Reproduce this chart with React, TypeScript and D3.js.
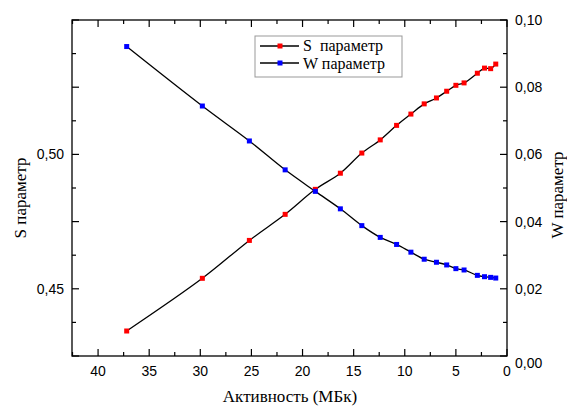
import React from "react";
import * as d3 from "d3";

// activity in MBq (x), S and W parameters
const activity = [37.2, 29.8, 25.2, 21.7, 18.75, 16.3, 14.2, 12.4, 10.8, 9.4, 8.1, 6.9, 5.9, 5.0, 4.2, 2.9, 2.2, 1.6, 1.1];
const sParam = [0.4343, 0.4539, 0.468, 0.4777, 0.487, 0.493, 0.5005, 0.5054, 0.5108, 0.515, 0.5188, 0.521, 0.5235, 0.5257, 0.5266, 0.5302, 0.5321, 0.5319, 0.5336];
const wParam = [0.0921, 0.0744, 0.064, 0.0554, 0.049, 0.0438, 0.0388, 0.0353, 0.0332, 0.0309, 0.0288, 0.0279, 0.0271, 0.026, 0.0256, 0.024, 0.0236, 0.0234, 0.0232];

const xMajor = [40, 35, 30, 25, 20, 15, 10, 5, 0];
const sMajor = [0.425, 0.45, 0.475, 0.5, 0.525, 0.55];
const sLabeled = [0.45, 0.5];
const wMajor = [0, 0.02, 0.04, 0.06, 0.08, 0.1];

const W = 567, H = 407;
const L = 72, R = 507, T = 20, B = 356;
const sans = "'Liberation Sans', Arial, sans-serif";
const serif = "'Liberation Serif', 'Times New Roman', serif";

const fmt = (v: number) => d3.format(".2f")(v).replace(".", ",");

export default function App() {
  const x = d3.scaleLinear().domain([42.55, 0]).range([L, R]);
  const yS = d3.scaleLinear().domain([0.425, 0.55]).range([B, T]);
  const yW = d3.scaleLinear().domain([0, 0.1]).range([B, T]);

  const xMinor = xMajor.map(v => v + 2.5).filter(v => v < 42.55);
  const sMinor = sMajor.map(v => v + 0.0125).filter(v => v < 0.55);
  const wMinor = wMajor.map(v => v + 0.01).filter(v => v < 0.1);

  const pts = activity.map((a, i) => ({ a, s: sParam[i], w: wParam[i] }));
  const lineS = d3.line<any>().x(d => x(d.a)).y(d => yS(d.s)).curve(d3.curveCatmullRom);
  const lineW = d3.line<any>().x(d => x(d.a)).y(d => yW(d.w)).curve(d3.curveCatmullRom);

  const ms = 5;
  const big = 7, small = 4;

  return (
    <>
      <style>{"body{margin:0}"}</style>
      <svg width={W} height={H} style={{ display: "block", background: "#fff" }}>
        {/* x ticks bottom + top */}
        {xMajor.map(v => (
          <g key={"xM" + v}>
            <line x1={x(v)} x2={x(v)} y1={B} y2={B - big} stroke="#000" strokeWidth={1.2} />
            <line x1={x(v)} x2={x(v)} y1={T} y2={T + big} stroke="#000" strokeWidth={1.2} />
            <text x={x(v)} y={376} textAnchor="middle" fontFamily={sans} fontSize={14}>{v}</text>
          </g>
        ))}
        {xMinor.map(v => (
          <g key={"xm" + v}>
            <line x1={x(v)} x2={x(v)} y1={B} y2={B - small} stroke="#000" strokeWidth={1.2} />
            <line x1={x(v)} x2={x(v)} y1={T} y2={T + small} stroke="#000" strokeWidth={1.2} />
          </g>
        ))}
        {/* left S axis */}
        {sMajor.map(v => (
          <line key={"sM" + v} x1={L} x2={L + big} y1={yS(v)} y2={yS(v)} stroke="#000" strokeWidth={1.2} />
        ))}
        {sMinor.map(v => (
          <line key={"sm" + v} x1={L} x2={L + small} y1={yS(v)} y2={yS(v)} stroke="#000" strokeWidth={1.2} />
        ))}
        {sLabeled.map(v => (
          <text key={"sl" + v} x={64} y={yS(v)} dy="0.35em" textAnchor="end" fontFamily={sans} fontSize={14}>{fmt(v)}</text>
        ))}
        {/* right W axis */}
        {wMajor.map(v => (
          <g key={"wM" + v}>
            <line x1={R} x2={R - big} y1={yW(v)} y2={yW(v)} stroke="#000" strokeWidth={1.2} />
            <text x={515} y={yW(v)} dy={v === 0 ? "0.85em" : "0.35em"} fontFamily={sans} fontSize={14}>{fmt(v)}</text>
          </g>
        ))}
        {wMinor.map(v => (
          <line key={"wm" + v} x1={R} x2={R - small} y1={yW(v)} y2={yW(v)} stroke="#000" strokeWidth={1.2} />
        ))}
        {/* frame */}
        <rect x={L} y={T} width={R - L} height={B - T} fill="none" stroke="#000" strokeWidth={1.3} />

        {/* data */}
        <path d={lineS(pts) || ""} fill="none" stroke="#000" strokeWidth={1.3} />
        <path d={lineW(pts) || ""} fill="none" stroke="#000" strokeWidth={1.3} />
        {pts.map((d, i) => (
          <rect key={"s" + i} x={x(d.a) - ms / 2} y={yS(d.s) - ms / 2} width={ms} height={ms} fill="#ff0000" />
        ))}
        {pts.map((d, i) => (
          <rect key={"w" + i} x={x(d.a) - ms / 2} y={yW(d.w) - ms / 2} width={ms} height={ms} fill="#0000ff" />
        ))}

        {/* legend */}
        <rect x={255} y={36} width={147} height={41} fill="#fff" stroke="#999" strokeWidth={1} />
        <line x1={260} x2={299} y1={46} y2={46} stroke="#000" strokeWidth={1.3} />
        <rect x={280 - ms / 2} y={46 - ms / 2} width={ms} height={ms} fill="#ff0000" />
        <text x={303} y={45.5} dy="0.35em" fontFamily={serif} fontSize={16} style={{ whiteSpace: "pre" }}>{"S  параметр"}</text>
        <line x1={260} x2={299} y1={63} y2={63} stroke="#000" strokeWidth={1.3} />
        <rect x={280 - ms / 2} y={63 - ms / 2} width={ms} height={ms} fill="#0000ff" />
        <text x={303} y={63.5} dy="0.35em" fontFamily={serif} fontSize={16}>W параметр</text>

        {/* axis titles */}
        <text x={290} y={396} dy="0.35em" textAnchor="middle" fontFamily={serif} fontSize={17}>Активность (МБк)</text>
        <text transform="translate(20,198) rotate(-90)" dy="0.35em" textAnchor="middle" fontFamily={serif} fontSize={17}>S параметр</text>
        <text transform="translate(557,195) rotate(-90)" dy="0.35em" textAnchor="middle" fontFamily={serif} fontSize={17}>W параметр</text>
      </svg>
    </>
  );
}
